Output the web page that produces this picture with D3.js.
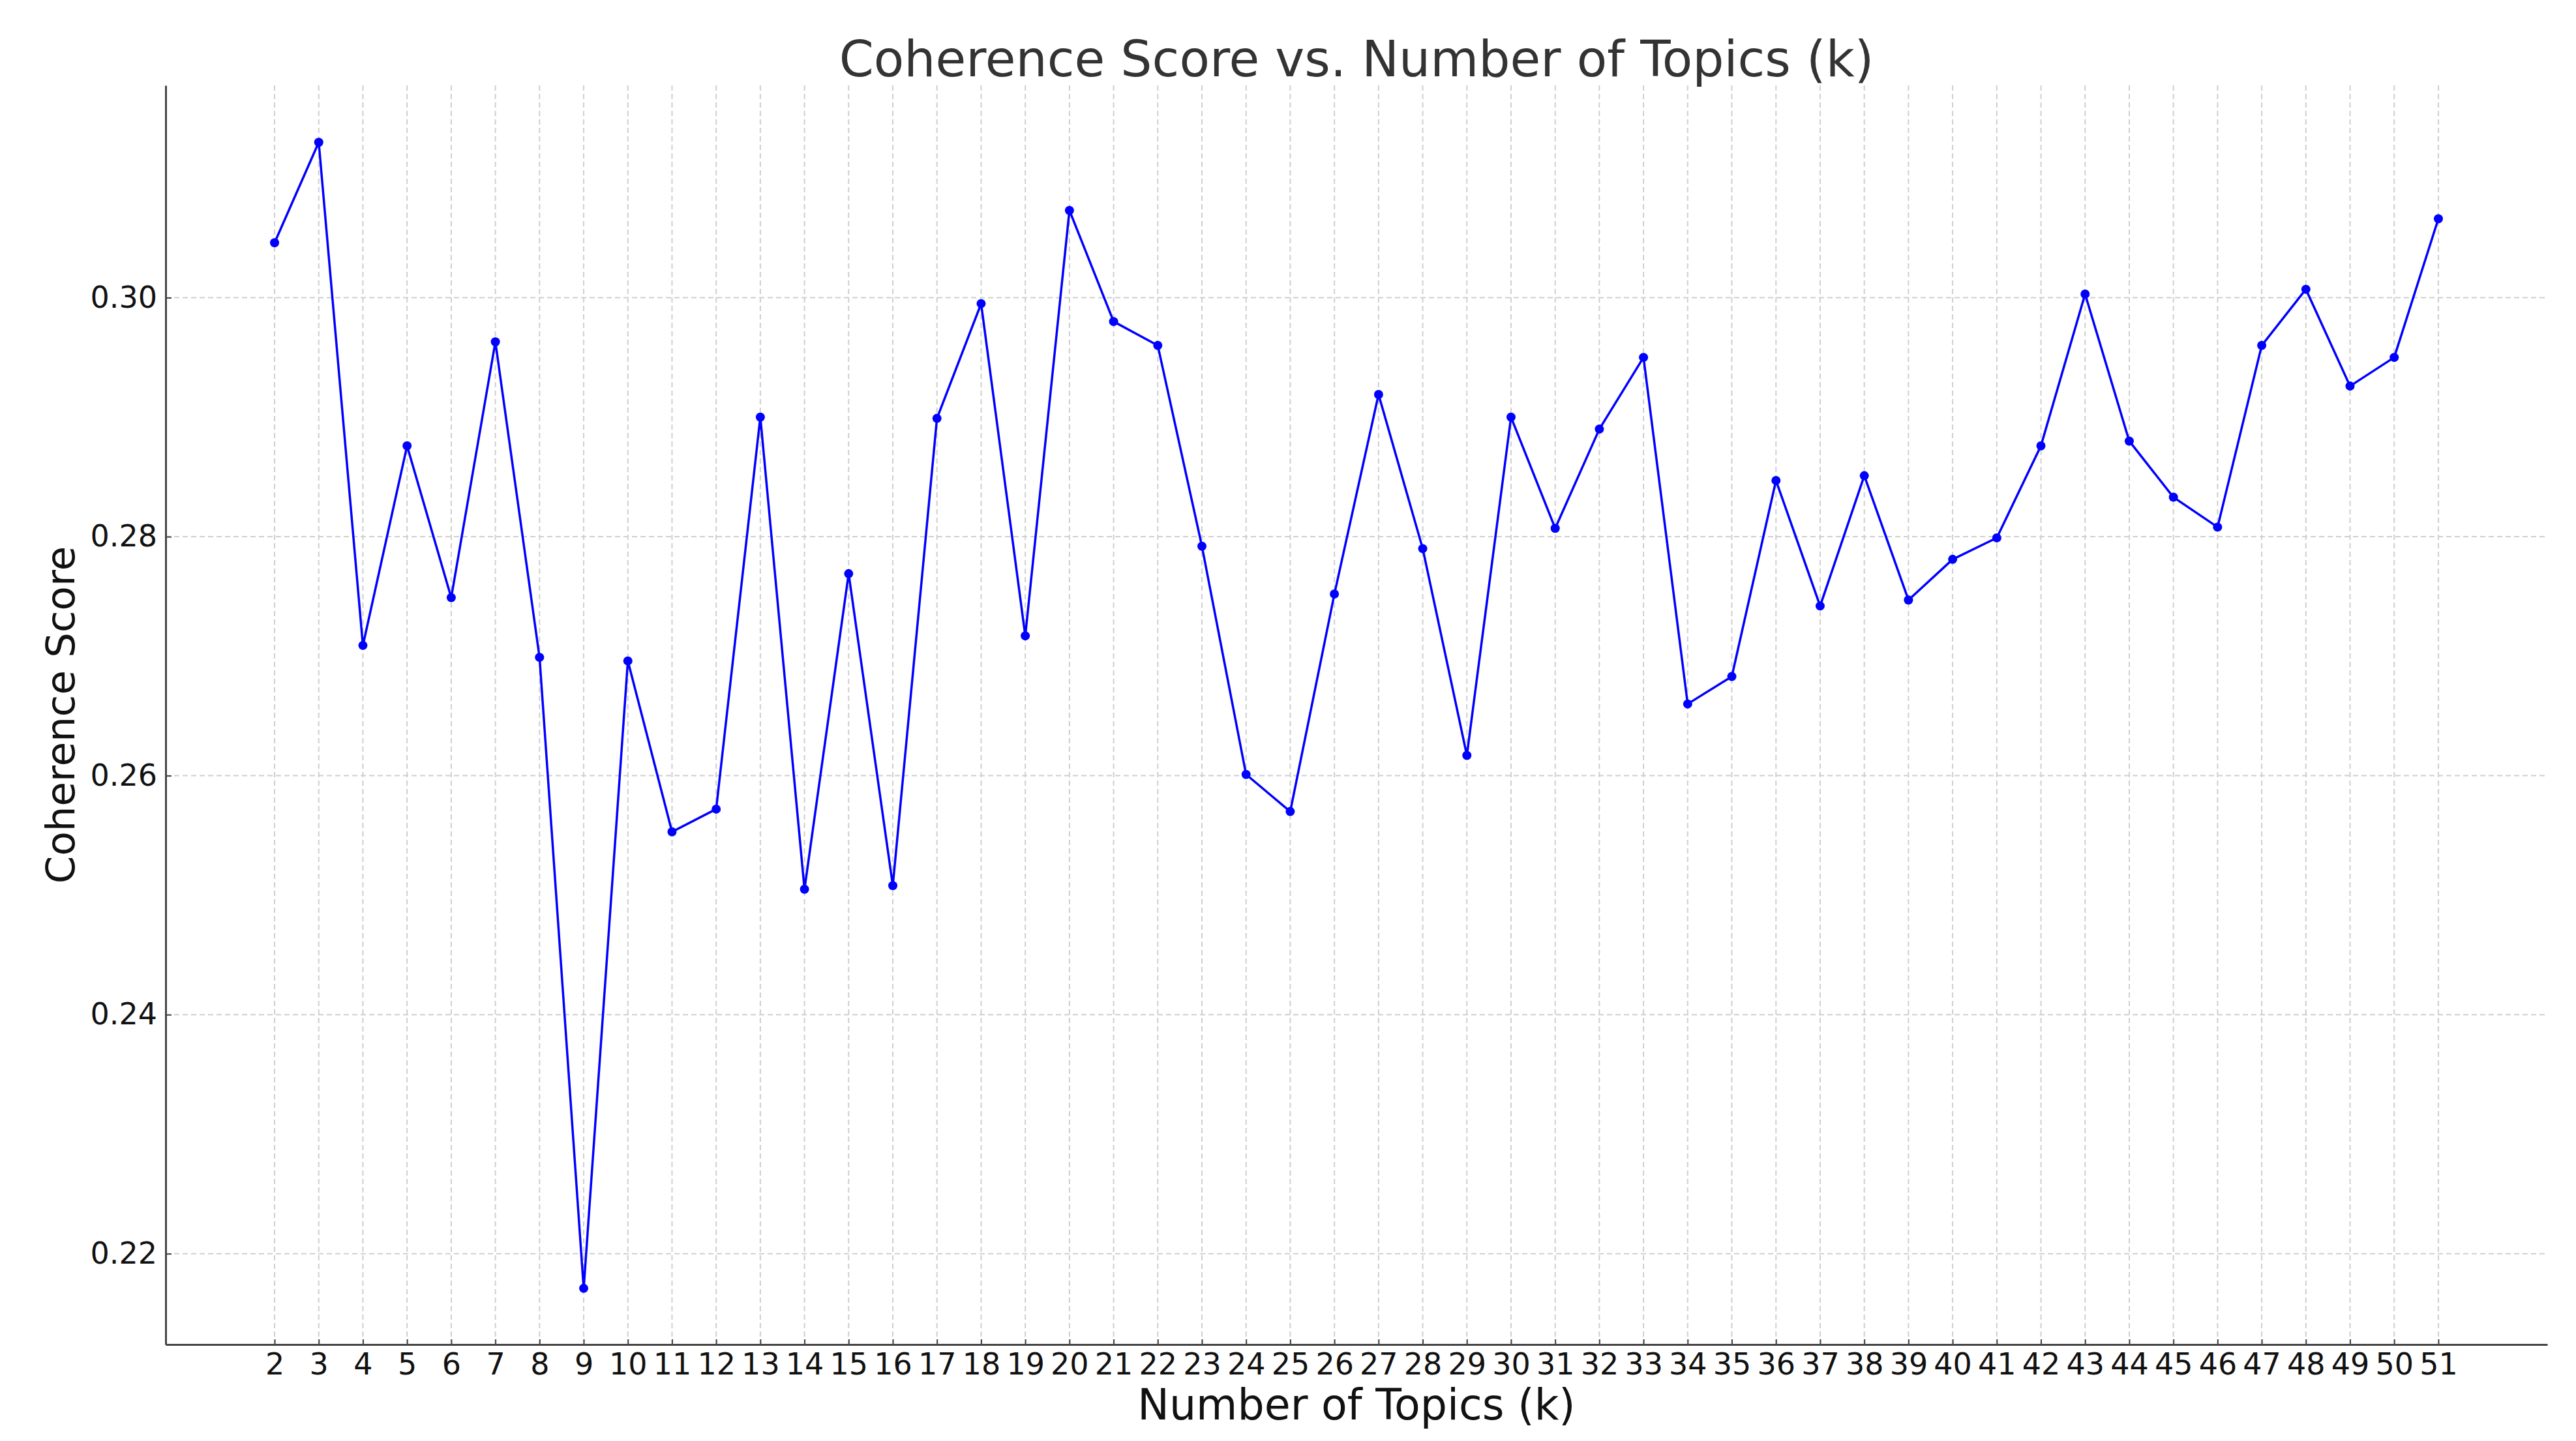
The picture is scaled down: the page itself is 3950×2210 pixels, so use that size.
<!DOCTYPE html>
<html>
<head>
<meta charset="utf-8">
<script src="https://cdn.jsdelivr.net/npm/d3@7"></script>
<style>
  html, body { margin: 0; padding: 0; background: #ffffff; }
  svg { display: block; }
  text { font-family: "DejaVu Sans", sans-serif; }
</style>
</head>
<body>
<script>
// ---- data ----
const topics = [2,3,4,5,6,7,8,9,10,11,12,13,14,15,16,17,18,19,20,21,22,23,24,25,26,
                27,28,29,30,31,32,33,34,35,36,37,38,39,40,41,42,43,44,45,46,47,48,49,50,51];
const coherence = [0.3046,0.3130,0.2709,0.2876,0.2749,0.2963,0.2699,0.2171,0.2696,0.2553,
                   0.2572,0.2900,0.2505,0.2769,0.2508,0.2899,0.2995,0.2717,0.3073,0.2980,
                   0.2960,0.2792,0.2601,0.2570,0.2752,0.2919,0.2790,0.2617,0.2900,0.2807,
                   0.2890,0.2950,0.2660,0.2683,0.2847,0.2742,0.2851,0.2747,0.2781,0.2799,
                   0.2876,0.3003,0.2880,0.2833,0.2808,0.2960,0.3007,0.2926,0.2950,0.3066];
const yTicks = [0.22, 0.24, 0.26, 0.28, 0.30];
const titleText = "Coherence Score vs. Number of Topics (k)";
const xLabelText = "Number of Topics (k)";
const yLabelText = "Coherence Score";

// ---- layout ----
const W = 3950, H = 2210;
const mLeft = 254, mRight = 3906, mTop = 131, mBottom = 2062;

const svg = d3.select("body").append("svg").attr("width", W).attr("height", H);

const x = d3.scaleLinear().domain([-0.467, 53.467]).range([mLeft, mRight]);
const y = d3.scaleLinear().domain([0.21240, 0.31776]).range([mBottom, mTop]);

// grid
const grid = svg.append("g");
grid.selectAll("line.vg").data(topics).join("line").attr("class", "vg")
  .attr("x1", d => x(d)).attr("x2", d => x(d))
  .attr("y1", mTop).attr("y2", mBottom)
  .attr("stroke", "#cfcfcf").attr("stroke-width", 2).attr("stroke-dasharray", "8,5");
grid.selectAll("line.hg").data(yTicks).join("line").attr("class", "hg")
  .attr("x1", mLeft).attr("x2", mRight)
  .attr("y1", d => y(d)).attr("y2", d => y(d))
  .attr("stroke", "#cfcfcf").attr("stroke-width", 2).attr("stroke-dasharray", "8,5");

// axes
const xAxis = d3.axisBottom(x).tickValues(topics).tickFormat(d3.format("d"))
  .tickSizeInner(-8).tickSizeOuter(0).tickPadding(13);
const yAxis = d3.axisLeft(y).tickValues(yTicks).tickFormat(d3.format(".2f"))
  .tickSizeInner(-9).tickSizeOuter(0).tickPadding(13);

const gx = svg.append("g").attr("transform", `translate(0,${mBottom})`).call(xAxis);
const gy = svg.append("g").attr("transform", `translate(${mLeft},0)`).call(yAxis);
[gx, gy].forEach(g => {
  g.select(".domain").attr("stroke", "#444").attr("stroke-width", 3);
  g.selectAll(".tick line").attr("stroke", "#444").attr("stroke-width", 2);
  g.selectAll(".tick text").attr("font-size", 46).attr("fill", "#111")
    .attr("font-family", "DejaVu Sans, sans-serif");
});

// line + markers
const line = d3.line().x((d, i) => x(topics[i])).y(d => y(d));
svg.append("path").datum(coherence)
  .attr("d", line).attr("fill", "none")
  .attr("stroke", "#0000ff").attr("stroke-width", 3.5).attr("stroke-linejoin", "round");
svg.append("g").selectAll("circle").data(coherence).join("circle")
  .attr("cx", (d, i) => x(topics[i])).attr("cy", d => y(d))
  .attr("r", 7).attr("fill", "#0000ff");

// title and labels
svg.append("text").attr("x", (mLeft + mRight) / 2).attr("y", 117)
  .attr("text-anchor", "middle").attr("font-size", 76).attr("fill", "#333")
  .text(titleText);
svg.append("text").attr("x", (mLeft + mRight) / 2).attr("y", 2177)
  .attr("text-anchor", "middle").attr("font-size", 65).attr("fill", "#111")
  .text(xLabelText);
svg.append("text")
  .attr("transform", `translate(114,${(mTop + mBottom) / 2}) rotate(-90)`)
  .attr("text-anchor", "middle").attr("font-size", 61).attr("fill", "#111")
  .text(yLabelText);
</script>
</body>
</html>
